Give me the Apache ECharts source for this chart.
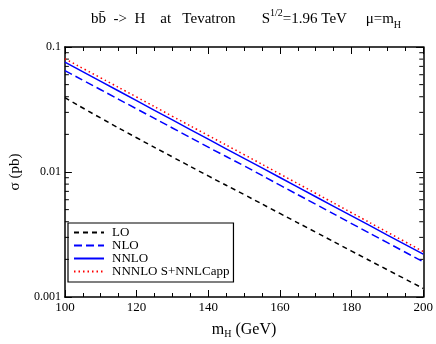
<!DOCTYPE html>
<html>
<head>
<meta charset="utf-8">
<script src="https://cdn.jsdelivr.net/npm/echarts@6/dist/echarts.min.js"></script>
<style>
html, body { margin: 0; padding: 0; background: #fff; }
#main { width: 436px; height: 344px; }
</style>
</head>
<body>
<div id="main"></div>
<script>
// Higgs mass (GeV)
var mH = [100, 110, 120, 130, 140, 150, 160, 170, 180, 190, 200];
// cross sections (pb)
var lo = [0.0393, 0.0270, 0.0188, 0.0132, 0.0093, 0.0066, 0.00466, 0.00330, 0.00233, 0.00165, 0.00117];
var nlo = [0.0647, 0.0455, 0.0320, 0.0225, 0.0158, 0.0112, 0.00785, 0.00552, 0.00387, 0.00272, 0.00191];
var nnlo = [0.0758, 0.0531, 0.0372, 0.0261, 0.0183, 0.01285, 0.00904, 0.00634, 0.00446, 0.00313, 0.00220];
var nnnlo = [0.0805, 0.0566, 0.0398, 0.0279, 0.0196, 0.01377, 0.00964, 0.00675, 0.00472, 0.00330, 0.00231];
var names = ['LO', 'NLO', 'NNLO', 'NNNLO S+NNLCapp'];
// minor ticks of the log axis
var yMinor = [0.002, 0.003, 0.004, 0.005, 0.006, 0.007, 0.008, 0.009,
    0.02, 0.03, 0.04, 0.05, 0.06, 0.07, 0.08, 0.09];

var serif = '"Liberation Serif", "DejaVu Serif", serif';

function pairs(ys) {
    return mH.map(function (m, i) { return [m, ys[i]]; });
}

function lineSeries(name, ys, color, type, width) {
    return {
        name: name,
        type: 'line',
        smooth: true,
        symbol: 'none',
        silent: true,
        lineStyle: { color: color, width: width, type: type },
        itemStyle: { color: color },
        data: pairs(ys)
    };
}

var myChart = echarts.init(document.getElementById('main'), null, { renderer: 'canvas' });

var xBase = {
    type: 'value',
    min: 100,
    max: 200,
    interval: 20,
    splitLine: { show: false },
    axisLine: { lineStyle: { color: '#000', width: 1.5 } },
    axisTick: { inside: true, length: 7, lineStyle: { color: '#000', width: 1 } },
    minorTick: { show: true, splitNumber: 4, length: 4, lineStyle: { color: '#000', width: 1 } }
};
var yBase = {
    type: 'log',
    logBase: 10,
    min: 0.001,
    max: 0.1,
    splitLine: { show: false },
    axisLine: { lineStyle: { color: '#000', width: 1.5 } },
    axisTick: { inside: true, length: 7, lineStyle: { color: '#000', width: 1 } }
};

option = {
    backgroundColor: '#fff',
    animation: false,
    title: {
        text: '{t|bb\u0304  ->  H    at   Tevatron       S}{sup|1/2}{t|=1.96 TeV     \u03bc=m}{sub|H}',
        left: 86,
        top: 3,
        textStyle: {
            fontWeight: 'normal',
            rich: {
                t: { fontFamily: serif, fontSize: 15, fontWeight: 'normal', color: '#000', lineHeight: 22, verticalAlign: 'middle' },
                sup: { fontFamily: serif, fontSize: 10, fontWeight: 'normal', color: '#000', verticalAlign: 'top' },
                sub: { fontFamily: serif, fontSize: 10, fontWeight: 'normal', color: '#000', verticalAlign: 'bottom' }
            }
        }
    },
    grid: { left: 50, right: 11, top: 47, bottom: 36 },
    legend: {
        orient: 'vertical',
        left: 68,
        top: 223,
        padding: [3, 4, 4, 5],
        itemWidth: 30,
        itemHeight: 10,
        itemGap: 0,
        borderColor: '#000',
        borderWidth: 1.2,
        data: names,
        itemStyle: { opacity: 0 },
        textStyle: { fontFamily: serif, fontSize: 13, color: '#000', lineHeight: 13, padding: [0, 0, 0, 3] }
    },
    xAxis: [
        Object.assign({}, xBase, {
            position: 'bottom',
            name: '{t|m}{sub|H}{t| (GeV)}',
            nameLocation: 'middle',
            nameGap: 24,
            nameTextStyle: {
                rich: {
                    t: { fontFamily: serif, fontSize: 16, color: '#000' },
                    sub: { fontFamily: serif, fontSize: 10, color: '#000', verticalAlign: 'bottom', padding: [8, 0, 0, 0] }
                }
            },
            axisLabel: { fontFamily: serif, fontSize: 13, color: '#000', margin: 4 }
        }),
        Object.assign({}, xBase, {
            position: 'top',
            axisLabel: { show: false }
        })
    ],
    yAxis: [
        Object.assign({}, yBase, {
            position: 'left',
            name: '\u03c3 (pb)',
            nameLocation: 'middle',
            nameRotate: 90,
            nameGap: 27,
            nameTextStyle: { fontFamily: serif, fontSize: 15, color: '#000' },
            axisLabel: {
                fontFamily: serif, fontSize: 12, color: '#000', margin: 4,
                formatter: function (v) { return String(+v.toPrecision(1)); }
            }
        }),
        Object.assign({}, yBase, {
            position: 'right',
            axisLabel: { show: false }
        })
    ],
    series: [
        lineSeries(names[0], lo, '#000000', [5, 4], 1.5),
        lineSeries(names[1], nlo, '#0000ff', [8, 4], 1.5),
        lineSeries(names[2], nnlo, '#0000ff', 'solid', 1.5),
        lineSeries(names[3], nnnlo, '#ff0000', [1.5, 3], 1.5),
        {
            type: 'custom',
            silent: true,
            clip: false,
            data: yMinor.map(function (v) { return [100, v]; }),
            renderItem: function (params, api) {
                var v = api.value(1);
                var l = api.coord([100, v]);
                var r = api.coord([200, v]);
                var st = { stroke: '#000', lineWidth: 1 };
                return {
                    type: 'group',
                    children: [
                        { type: 'line', shape: { x1: l[0], y1: l[1], x2: l[0] + 4, y2: l[1] }, style: st },
                        { type: 'line', shape: { x1: r[0], y1: r[1], x2: r[0] - 4, y2: r[1] }, style: st }
                    ]
                };
            }
        }
    ]
};

myChart.setOption(option);
</script>
</body>
</html>
